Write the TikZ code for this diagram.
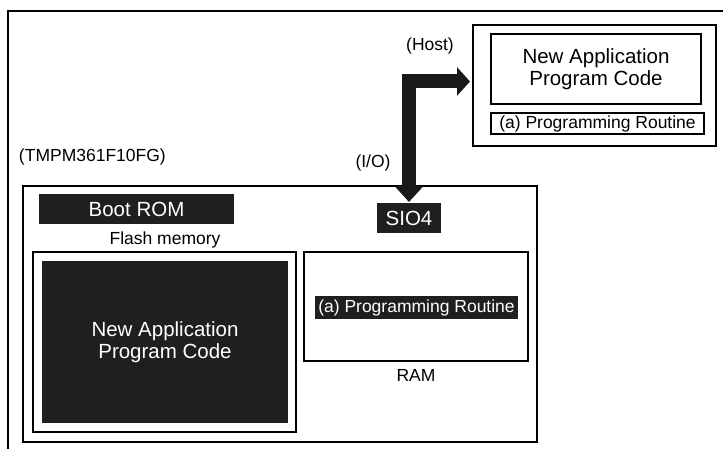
\documentclass[tikz,border=0pt]{standalone}
\usepackage{fontspec}
\setmainfont{Liberation Sans}
\usetikzlibrary{arrows.meta}
\begin{document}
\begin{tikzpicture}[x=1pt,y=-1pt,
  every node/.style={inner sep=0pt, outer sep=0pt},
  lbl/.style={font=\fontsize{17.5}{20}\selectfont},
  big/.style={font=\fontsize{20.5}{22.5}\selectfont, align=center},
  box/.style={draw, line width=1.2pt, anchor=north west},
  blk/.style={fill=black!88, text=white, anchor=north west},
  bigarrow/.style={line width=14pt, line join=miter,
    {Triangle[width=28pt,length=16pt]}-{Triangle[width=28pt,length=13pt]}}]
\useasboundingbox (0,0) rectangle (723,449);
% outer frame (cropped)
\draw[line width=1.2pt] (8,449) -- (8,11) -- (723,11);
% host side
\node[box, minimum width=243, minimum height=121] (host) at (473,25) {};
\node[box, minimum width=210, minimum height=70] (hcode) at (491,34) {};
\node[big] at (hcode.center) {New Application\\Program Code};
\node[box, minimum width=213, minimum height=21] (hrout) at (491,113) {};
\node[lbl] at (hrout.center) {(a) Programming Routine};
\node[lbl] (hostlbl) at (430,46) {(Host)};
\node[lbl] (iolbl) at (373,163) {(I/O)};
% chip
\node[lbl, anchor=west] (chiplbl) at (19,157) {(TMPM361F10FG)};
\node[box, minimum width=514, minimum height=256] (chip) at (23,186) {};
\node[blk, big, minimum width=195, minimum height=30] (boot) at (39,194) {};
\node[big, text=white] at (boot.center) {Boot ROM};
\node[lbl] (flashlbl) at (165,240) {Flash memory};
\node[box, minimum width=263, minimum height=180] (flash) at (33,252) {};
\node[blk, minimum width=246, minimum height=162] (code) at (42,261) {};
\node[big, text=white] at (code.center) {New Application\\Program Code};
\node[box, minimum width=224, minimum height=109] (ram) at (304,252) {};
\node[blk, minimum width=203, minimum height=23] (rout) at (315,296) {};
\node[lbl, text=white] at (rout.center) {(a) Programming Routine};
\node[lbl] (ramlbl) at (416,375) {RAM};
\node[blk, minimum width=64, minimum height=30] (sio) at (377,203) {};
\node[big, text=white] at (sio.center) {SIO4};
% arrow between SIO4 and host
\draw[bigarrow, black!90] ([yshift=1pt]sio.north) |- ([xshift=-3pt,yshift=4pt]host.west);
\end{tikzpicture}
\end{document}
